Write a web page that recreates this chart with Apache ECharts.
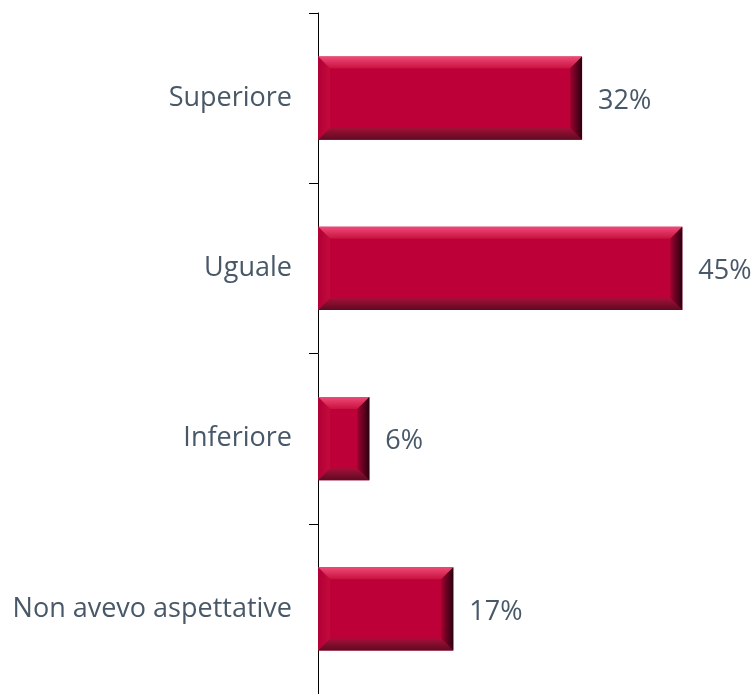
<!DOCTYPE html>
<html>
<head>
<meta charset="utf-8">
<script src="https://cdn.jsdelivr.net/npm/echarts@6/dist/echarts.min.js"></script>
<style>
html,body{margin:0;padding:0;background:#fff;}
#main{width:754px;height:694px;}
</style>
</head>
<body>
<div id="main"></div>
<script>
const categories = ['Superiore', 'Uguale', 'Inferiore', 'Non avevo aspettative'];
const values = [32.4, 44.7, 6.3, 16.6];

const chart = echarts.init(document.getElementById('main'));
const FONT = '"Open Sans", "Noto Sans", sans-serif';
const TXT = '#485868';
const BAR_RATIO = 0.49;

function lg(x, y, x2, y2, c1, c2) {
  return new echarts.graphic.LinearGradient(x, y, x2, y2, [
    { offset: 0, color: c1 }, { offset: 1, color: c2 }
  ]);
}

function renderBevel(params, api) {
  const v = api.value(0);
  const ci = api.value(1);
  const p0 = api.coord([0, ci]);
  const p1 = api.coord([v, ci]);
  const band = api.size([0, 1])[1];
  const h = band * BAR_RATIO;
  const x0 = p0[0], x1 = p1[0];
  const y0 = p0[1] - h / 2, y1 = p0[1] + h / 2;
  const w = x1 - x0;
  const b = Math.min(12, w / 2, h / 2);
  return {
    type: 'group',
    silent: true,
    children: [
      { type: 'polygon', shape: { points: [[x0, y0], [x1, y0], [x1 - b, y0 + b], [x0 + b, y0 + b]] },
        style: { fill: lg(0, 0, 0, 1, '#F04A78', '#C8123F') } },
      { type: 'polygon', shape: { points: [[x0, y1], [x1, y1], [x1 - b, y1 - b], [x0 + b, y1 - b]] },
        style: { fill: lg(0, 0, 0, 1, '#A50F38', '#5E0A22') } },
      { type: 'polygon', shape: { points: [[x1, y0], [x1, y1], [x1 - b, y1 - b], [x1 - b, y0 + b]] },
        style: { fill: lg(0, 0, 1, 0, '#9E0030', '#2A0010') } },
      { type: 'polygon', shape: { points: [[x0, y0], [x0, y1], [x0 + b, y1 - b], [x0 + b, y0 + b]] },
        style: { fill: lg(0, 0, 1, 0, '#B00035', '#C40A3C') } }
    ]
  };
}

chart.setOption({
  animation: false,
  backgroundColor: '#ffffff',
  grid: { left: 318, top: 13, width: 407.5, height: 684, containLabel: false },
  xAxis: {
    type: 'value', min: 0, max: 50,
    show: false
  },
  yAxis: {
    type: 'category',
    data: categories,
    inverse: true,
    axisLine: { show: true, lineStyle: { color: '#000', width: 1 } },
    axisTick: { show: true, length: 9, lineStyle: { color: '#000', width: 1 } },
    axisLabel: { margin: 26, color: TXT, fontSize: 27, fontFamily: FONT, padding: [5, 0, 0, 0] }
  },
  series: [
    {
      type: 'bar',
      data: values,
      barWidth: (BAR_RATIO * 100) + '%',
      itemStyle: { color: '#BE0039' },
      label: {
        show: true, position: 'right', distance: 16, offset: [0, 3],
        color: TXT, fontSize: 27, fontFamily: FONT,
        formatter: p => Math.round(p.value) + '%'
      },
      z: 2
    },
    {
      type: 'custom',
      renderItem: renderBevel,
      encode: { x: 0, y: 1 },
      data: values.map((v, i) => [v, i]),
      z: 3
    }
  ]
});
</script>
</body>
</html>
